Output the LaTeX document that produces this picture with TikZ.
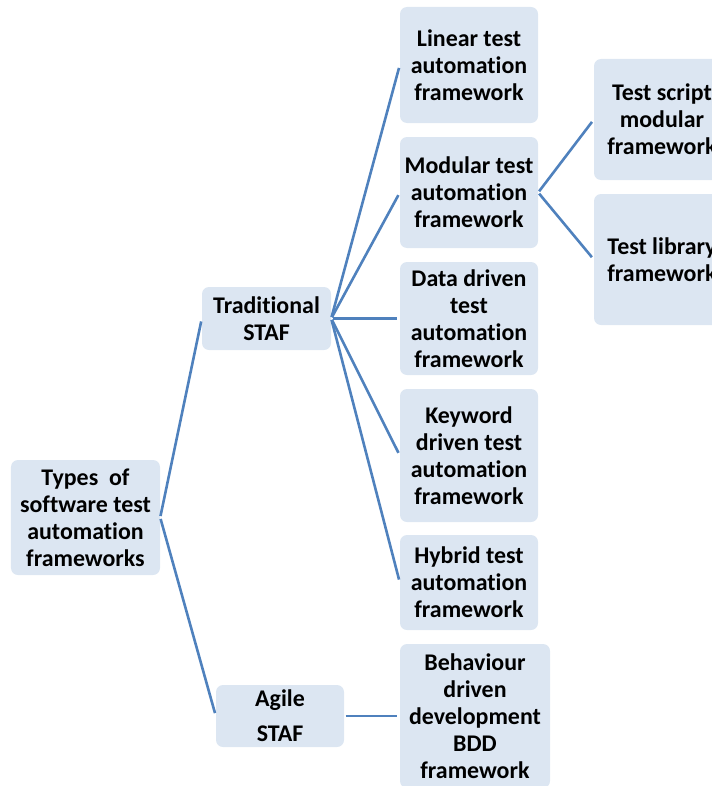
\documentclass[tikz,border=0pt]{standalone}
\usepackage{fontspec}
\setmainfont{Carlito}[RawFeature={-liga}]
\definecolor{boxfill}{HTML}{DCE6F2}
\definecolor{linkc}{HTML}{4F81BD}
\begin{document}
\begin{tikzpicture}[x=1bp,y=-1bp,
  box/.style={rectangle, rounded corners=7bp, fill=boxfill, draw=none, inner sep=0pt,
    align=center, font=\fontsize{24}{27}\selectfont\bfseries},
  link/.style={draw=linkc, line width=2.6bp, shorten <=1.5bp, shorten >=3bp}]
\useasboundingbox (0,0) rectangle (712,786);
\node[box, minimum width=149bp, minimum height=115bp] (root) at (85.5,517.5) {Types\ \ of\\software test\\automation\\frameworks};
\node[box, minimum width=129bp, minimum height=63bp] (trad) at (266.5,318.5) {Traditional\\STAF};
\node[box, minimum width=128bp, minimum height=62bp] (agile) at (280,716) {Agile\\[8bp]STAF};
\node[box, minimum width=138bp, minimum height=116bp] (linear) at (469,65) {Linear test\\automation\\framework};
\node[box, minimum width=138bp, minimum height=111bp] (modular) at (469,192.5) {Modular test\\automation\\framework};
\node[box, minimum width=138bp, minimum height=113bp] (data) at (469,318.5) {Data driven\\test\\automation\\framework};
\node[box, minimum width=138bp, minimum height=133bp] (keyword) at (469,455.5) {Keyword\\driven test\\automation\\framework};
\node[box, minimum width=138bp, minimum height=95bp] (hybrid) at (469,582.5) {Hybrid test\\automation\\framework};
\node[box, minimum width=150bp, minimum height=144bp] (bdd) at (475,716) {Behaviour\\driven\\development\\BDD\\framework};
\node[box, minimum width=136bp, minimum height=121bp] (tscript) at (662,119.5) {Test script\\modular\\framework};
\node[box, minimum width=136bp, minimum height=131bp] (tlib) at (662,259.5) {Test library\\framework};
\draw[link] (root.east) -- (trad.west);
\draw[link] (root.east) -- (agile.west);
\foreach \c in {linear,modular,data,keyword,hybrid}
  \draw[link] (trad.east) -- (\c.west);
\draw[link] (agile.east) -- (bdd.west);
\draw[link] (modular.east) -- (tscript.west);
\draw[link] (modular.east) -- (tlib.west);
\end{tikzpicture}
\end{document}
